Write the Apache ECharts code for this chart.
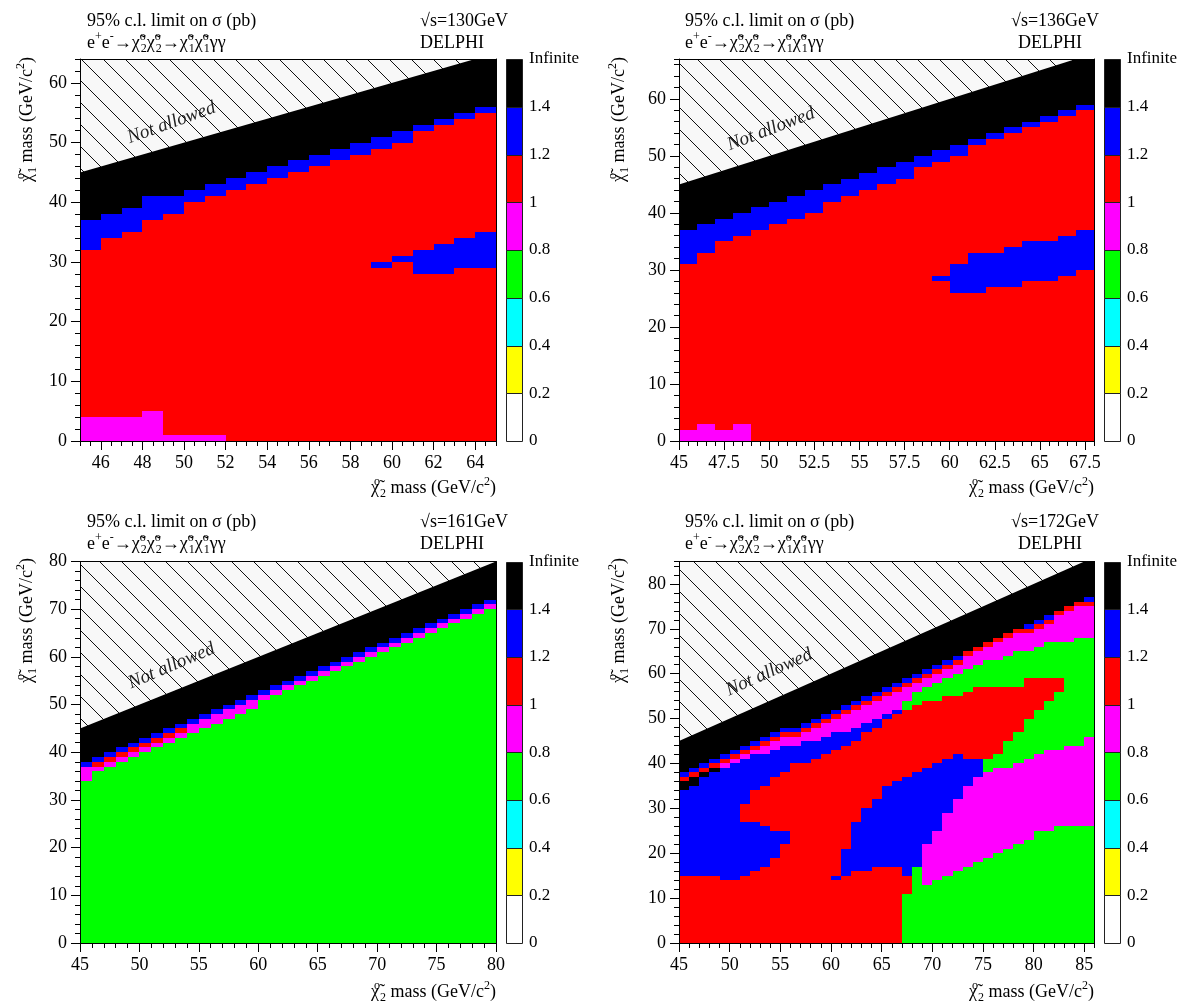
<!DOCTYPE html>
<html><head><meta charset="utf-8">
<script src="https://cdn.jsdelivr.net/npm/echarts@6/dist/echarts.min.js"></script>
<style>html,body{margin:0;padding:0;background:#fff}#c{width:1181px;height:1003px}</style>
</head><body><div id="c"></div>
<script>
// ---------------- DATA ----------------
const cbLabels = ['0','0.2','0.4','0.6','0.8','1','1.2','1.4','Infinite'];
const cbColors = ['#ffffff','#ffff00','#00ffff','#00ff00','#ff00ff','#ff0000','#0000ff','#000000'];
const codeLevel = {W:0,Y:1,C:2,G:3,M:4,R:5,B:6,K:7};
const energies = ['130','136','161','172'];

const p1XTicks = [46,48,50,52,54,56,58,60,62,64];
const p2XTicks = [45,47.5,50,52.5,55,57.5,60,62.5,65,67.5];
const p3XTicks = [45,50,55,60,65,70,75,80];
const p4XTicks = [45,50,55,60,65,70,75,80,85];
const p1YTicks = [0,10,20,30,40,50,60];
const p2YTicks = [0,10,20,30,40,50,60];
const p3YTicks = [0,10,20,30,40,50,60,70,80];
const p4YTicks = [0,10,20,30,40,50,60,70,80];

// columns of 1 GeV starting at x=45; each token = class code + upper edge (GeV); last K goes to the top
const p1Columns = [
 'M4 R32 B37 K','M4 R34 B38 K','M4 R35 B39 K','M5 R37 B41 K','M1 R38 B41 K',
 'M1 R40 B42 K','M1 R41 B43 K','R42 B44 K','R43 B45 K','R44 B46 K',
 'R45 B47 K','R46 B48 K','R47 B49 K','R48 B50 K','R29 B30 R49 B51 K',
 'R30 B31 R50 B52 K','R28 B32 R52 B53 K','R28 B33 R53 B54 K','R29 B34 R54 B55 K','R29 B35 R55 B56 K'
];
const p2Columns = [
 'M2 R31 B37 K','M3 R33 B38 K','M2 R35 B39 K','M3 R36 B40 K','R37 B41 K',
 'R38 B42 K','R39 B43 K','R40 B44 K','R42 B45 K','R43 B46 K',
 'R44 B47 K','R45 B48 K','R46 B49 K','R48 B50 K','R28 B29 R49 B51 K',
 'R26 B31 R50 B52 K','R26 B33 R52 B53 K','R27 B33 R53 B54 K','R27 B34 R54 B55 K','R28 B35 R55 B56 K',
 'R28 B35 R56 B57 K','R29 B36 R57 B58 K','R30 B37 R58 B59 K'
];
const p3Columns = [
 'G34 M37 B38 K','G36 M37 R38 B39 K','G37 M38 R39 B40 K','G38 M39 R40 B41 K','G39 M40 R41 B42 K',
 'G40 M41 R42 B43 K','G41 M42 R43 B44 K','G42 M43 R44 B45 K','G43 M44 R45 B46 K','G44 M46 B47 K',
 'G45 M47 B48 K','G46 M48 B49 K','G47 M49 B50 K','G48 M50 B51 K','G49 M51 B52 K',
 'G51 M52 B53 K','G52 M53 B54 K','G53 M54 B55 K','G54 M55 B56 K','G55 M56 B57 K',
 'G56 M57 B58 K','G57 M58 B59 K','G58 M59 B60 K','G59 M60 B61 K','G60 M61 B62 K',
 'G61 M62 B63 K','G62 M63 B64 K','G63 M64 B65 K','G64 M65 B66 K','G65 M66 B67 K',
 'G66 M67 B68 K','G67 M68 B69 K','G68 M69 B70 K','G69 M70 B71 K','G70 M71 B72 K'
];
const p4Columns = [
 'R15 B34 K36 R37 B38 K','R15 B35 K37 R38 B39 K','R15 B37 K38 R39 B40 K','R15 B38 K39 R40 B41 K','R14 B39 M40 R41 B42 K',
 'R14 B40 M41 R42 B43 K','R15 B27 R31 B41 M42 R43 B44 K','R16 B27 R34 B42 M43 R44 B45 K','R17 B26 R35 B42 M44 R45 B46 K','R19 B25 R37 B43 M45 R46 B47 K',
 'R22 B25 R38 B44 M46 R47 B48 K','R40 B44 M46 R47 B48 K','R40 B45 M47 R48 B49 K','R41 B45 M48 R49 B50 K','R42 B46 M49 R50 B51 K',
 'R14 B15 R43 B47 M50 R51 B52 K','R15 B21 R44 B47 M51 R52 B53 K','R16 B27 R45 B48 M52 R53 B54 K','R16 B30 R47 B49 M53 R54 B55 K','R17 B32 R48 B50 M54 R55 B56 K',
 'R17 B35 R50 B51 M55 R56 B57 K','R17 B36 R51 B52 M56 R57 B58 K','G11 R15 B37 R52 G54 M57 R58 B59 K','G17 B38 R53 G56 M58 R59 B60 K','G13 M22 B39 R54 G57 M59 R60 B61 K',
 'G14 M25 B40 R54 G58 M60 R61 B62 K','G15 M29 B41 R55 G59 M61 R62 B63 K','G16 M32 B42 R55 G60 M62 R63 B64 K','G17 M35 B41 R56 G61 M64 R65 K','G18 M37 B41 R57 G62 M65 R66 K',
 'G19 M38 G41 R57 G63 M66 R67 K','G20 M39 G42 R57 G63 M67 R68 K','G21 M39 G45 R57 G64 M68 R69 K','G22 M40 G47 R57 G65 M69 R70 K','G23 M41 G50 R59 G65 M69 R70 B71 K',
 'G25 M42 G52 R59 G66 M70 R71 B72 K','G25 M43 G54 R59 G67 M71 R72 B73 K','G26 M43 G56 R59 G67 M73 R74 K','G26 M44 G67 M74 R75 K','G26 M44 G68 M75 R76 K',
 'G26 M46 G68 M75 R76 B77 K'
];

// ---------------- LAYOUT ----------------
const SERIF = '"Liberation Serif","DejaVu Serif",serif';
const panels = [
 {cols:p1Columns, xMin:45, xMax:65, yMax:64, xTicks:p1XTicks, xMinor:0.5, yTicks:p1YTicks,
  grid:{left:80,top:59,width:416,height:382}, cb:{left:506,top:59,width:16,height:382},
  t1:[87,21], t2:[87,43], e:[420,21], d:[420,43], yn:[27,57], xn:[496,488], na:[49.4,53.3,20]},
 {cols:p2Columns, xMin:45, xMax:68, yMax:67, xTicks:p2XTicks, xMinor:0.5, yTicks:p2YTicks,
  grid:{left:679,top:59,width:415,height:382}, cb:{left:1104,top:59,width:16,height:382},
  t1:[685,21], t2:[685,43], e:[1011,21], d:[1018,43], yn:[619,57], xn:[1094,488], na:[50.1,54.7,21]},
 {cols:p3Columns, xMin:45, xMax:80, yMax:80, xTicks:p3XTicks, xMinor:1, yTicks:p3YTicks,
  grid:{left:80,top:561.5,width:416,height:381.5}, cb:{left:506,top:561.5,width:16,height:381.5},
  t1:[87,522], t2:[87,544], e:[420,522], d:[420,544], yn:[27,558], xn:[496,992], na:[52.7,58.1,23]},
 {cols:p4Columns, xMin:45, xMax:86, yMax:85, xTicks:p4XTicks, xMinor:1, yTicks:p4YTicks,
  grid:{left:679,top:561.5,width:415.5,height:381.5}, cb:{left:1104,top:561.5,width:16,height:381.5},
  t1:[685,522], t2:[685,544], e:[1011,522], d:[1018,544], yn:[619,558], xn:[1094,992], na:[53.9,60.3,24]}
];

function parseColumns(cols, xStart, yMax) {
  const out = [];
  cols.forEach((s, i) => {
    let y0 = 0;
    s.trim().split(/\s+/).forEach(tok => {
      const lv = codeLevel[tok[0]];
      const top = tok.length > 1 ? parseFloat(tok.slice(1)) : yMax;
      out.push([xStart + i, xStart + i + 1, y0, top, lv]);
      y0 = top;
    });
  });
  return out;
}

function makeHatch() {
  const s = 22, c = document.createElement('canvas');
  c.width = s; c.height = s;
  const g = c.getContext('2d');
  g.fillStyle = '#f8f8f8'; g.fillRect(0, 0, s, s);
  g.strokeStyle = '#111'; g.lineWidth = 1;
  g.beginPath();
  g.moveTo(-2, -2); g.lineTo(s + 2, s + 2);
  g.moveTo(s - 2, -2); g.lineTo(s + 2, 2);
  g.moveTo(-2, s - 2); g.lineTo(2, s + 2);
  g.stroke();
  return c;
}
const hatch = makeHatch();

const RICH = {
  sup: {fontSize: 12, fontFamily: SERIF, verticalAlign: 'top', lineHeight: 12, fill: '#000'},
  sub: {fontSize: 12, fontFamily: SERIF, verticalAlign: 'bottom', lineHeight: 12, fill: '#000'},
  so: {fontSize: 12, fontFamily: SERIF, verticalAlign: 'top', lineHeight: 12, width: 1, fill: '#000'}
};
const yNameText = 'χ̃{so|o}{sub|1} mass (GeV/c{sup|2})';
const xNameText = 'χ̃{so|o}{sub|2} mass (GeV/c{sup|2})';
const reactionText = 'e{sup|+}e{sup|-}→χ̃{so|o}{sub|2}χ̃{so|o}{sub|2}→χ̃{so|o}{sub|1}χ̃{so|o}{sub|1}γγ';

const grid = [], xAxis = [], yAxis = [], series = [], graphic = [];
const axisLineStyle = {color: '#000', width: 1};
const labelStyle = {color: '#000', fontFamily: SERIF, fontSize: 18};

panels.forEach((p, k) => {
  grid.push(Object.assign({containLabel: false}, p.grid));
  const gi = k;
  // x axes: main / minor / top frame
  xAxis.push({gridIndex: gi, type: 'value', min: p.xMin, max: p.xMax, position: 'bottom', z: 5,
    axisLine: {show: true, onZero: false, lineStyle: axisLineStyle},
    axisTick: {show: true, customValues: p.xTicks, length: 9, lineStyle: axisLineStyle},
    axisLabel: {show: true, customValues: p.xTicks, margin: 13, ...labelStyle},
    splitLine: {show: false}});
  xAxis.push({gridIndex: gi, type: 'value', min: p.xMin, max: p.xMax, interval: p.xMinor, position: 'bottom', z: 5,
    axisLine: {show: false, onZero: false}, axisTick: {show: true, length: 5, lineStyle: axisLineStyle},
    axisLabel: {show: false}, splitLine: {show: false}});
  xAxis.push({gridIndex: gi, type: 'value', min: p.xMin, max: p.xMax, position: 'top', z: 5,
    axisLine: {show: true, onZero: false, lineStyle: axisLineStyle}, axisTick: {show: false},
    axisLabel: {show: false}, splitLine: {show: false}});
  yAxis.push({gridIndex: gi, type: 'value', min: 0, max: p.yMax, position: 'left', z: 5,
    axisLine: {show: true, onZero: false, lineStyle: axisLineStyle},
    axisTick: {show: true, customValues: p.yTicks, length: 9, lineStyle: axisLineStyle},
    axisLabel: {show: true, customValues: p.yTicks, margin: 13, ...labelStyle},
    splitLine: {show: false}});
  yAxis.push({gridIndex: gi, type: 'value', min: 0, max: p.yMax, interval: 2, position: 'left', z: 5,
    axisLine: {show: false, onZero: false}, axisTick: {show: true, length: 5, lineStyle: axisLineStyle},
    axisLabel: {show: false}, splitLine: {show: false}});
  yAxis.push({gridIndex: gi, type: 'value', min: 0, max: p.yMax, position: 'right', z: 5,
    axisLine: {show: true, onZero: false, lineStyle: axisLineStyle}, axisTick: {show: false},
    axisLabel: {show: false}, splitLine: {show: false}});

  const xi = k * 3, yi = k * 3;
  series.push({
    type: 'custom', xAxisIndex: xi, yAxisIndex: yi, silent: true, z: 2,
    encode: {x: [0, 1], y: [2, 3]},
    data: parseColumns(p.cols, p.xMin, p.yMax),
    renderItem: function (params, api) {
      const a = api.coord([api.value(0), api.value(3)]);
      const b = api.coord([api.value(1), api.value(2)]);
      const L = Math.round(a[0]), T = Math.round(a[1]), R = Math.round(b[0]), B = Math.round(b[1]);
      return {type: 'rect', shape: {x: L, y: T, width: R - L, height: B - T},
        style: {fill: cbColors[api.value(4)]}};
    }
  });
  // hatched "Not allowed" region above the diagonal m(chi1) = m(chi2)
  series.push({
    type: 'custom', xAxisIndex: xi, yAxisIndex: yi, silent: true, z: 3,
    encode: {x: [0, 2], y: [1, 3]},
    data: [[p.xMin, p.xMin, p.yMax, p.yMax]],
    renderItem: function (params, api) {
      const x0 = api.value(0), y0 = api.value(1), x1 = api.value(2), y1 = api.value(3);
      const c0 = api.coord([x0, y0]), c1 = api.coord([x1, y1]), c2 = api.coord([x0, y1]);
      const lp = api.coord([p.na[0], p.na[1]]);
      return {type: 'group', children: [
        {type: 'polygon', shape: {points: [c0, c1, c2]}, style: {fill: {image: hatch, repeat: 'repeat'}}},
        {type: 'text', x: lp[0], y: lp[1], rotation: p.na[2] * Math.PI / 180,
          style: {text: 'Not allowed', fontFamily: SERIF, fontStyle: 'italic', fontSize: 19,
            fill: '#222', align: 'center', verticalAlign: 'middle'}}
      ]};
    }
  });

  // titles
  graphic.push({type: 'text', x: p.t1[0], y: p.t1[1], style: {text: '95% c.l. limit on σ (pb)',
    fontFamily: SERIF, fontSize: 18, fill: '#000', verticalAlign: 'middle'}});
  graphic.push({type: 'text', x: p.t2[0], y: p.t2[1], style: {text: reactionText, rich: RICH,
    fontFamily: SERIF, fontSize: 18, lineHeight: 24, fill: '#000', verticalAlign: 'middle'}});
  graphic.push({type: 'text', x: p.e[0], y: p.e[1], style: {text: '√s=' + energies[k] + 'GeV',
    fontFamily: SERIF, fontSize: 18, fill: '#000', verticalAlign: 'middle'}});
  graphic.push({type: 'text', x: p.d[0], y: p.d[1], style: {text: 'DELPHI',
    fontFamily: SERIF, fontSize: 18, fill: '#000', verticalAlign: 'middle'}});
  graphic.push({type: 'text', x: p.yn[0], y: p.yn[1], rotation: Math.PI / 2, style: {text: yNameText, rich: RICH,
    fontFamily: SERIF, fontSize: 18, lineHeight: 24, fill: '#000', align: 'right', verticalAlign: 'middle'}});
  graphic.push({type: 'text', x: p.xn[0], y: p.xn[1], style: {text: xNameText, rich: RICH,
    fontFamily: SERIF, fontSize: 18, lineHeight: 24, fill: '#000', align: 'right', verticalAlign: 'middle'}});
});

// colour bars
panels.forEach((p, k) => {
  grid.push(Object.assign({containLabel: false}, p.cb));
  const gi = 4 + k;
  xAxis.push({gridIndex: gi, type: 'value', min: 0, max: 1, show: false});
  yAxis.push({gridIndex: gi, type: 'value', min: 0, max: 8, interval: 1, position: 'right',
    axisLine: {show: false, onZero: false}, axisTick: {show: false}, splitLine: {show: false},
    axisLabel: {show: true, margin: 7, color: '#000', fontFamily: SERIF, fontSize: 17,
      formatter: v => cbLabels[Math.round(v)]}});
  series.push({
    type: 'custom', xAxisIndex: xAxis.length - 1, yAxisIndex: yAxis.length - 1, silent: true,
    encode: {y: 0},
    data: cbColors.map((c, i) => [i]),
    renderItem: function (params, api) {
      const lv = api.value(0);
      const a = api.coord([0, lv + 1]), b = api.coord([1, lv]);
      const L = Math.round(a[0]) + 0.5, T = Math.round(a[1]) + 0.5, R = Math.round(b[0]) + 0.5, B = Math.round(b[1]) + 0.5;
      return {type: 'rect', shape: {x: L, y: T, width: R - L, height: B - T},
        style: {fill: cbColors[lv], stroke: '#222', lineWidth: 1}};
    }
  });
});

const chart = echarts.init(document.getElementById('c'), null, {renderer: 'canvas'});
chart.setOption({animation: false, backgroundColor: '#fff', grid, xAxis, yAxis, series, graphic});
</script>
</body></html>
